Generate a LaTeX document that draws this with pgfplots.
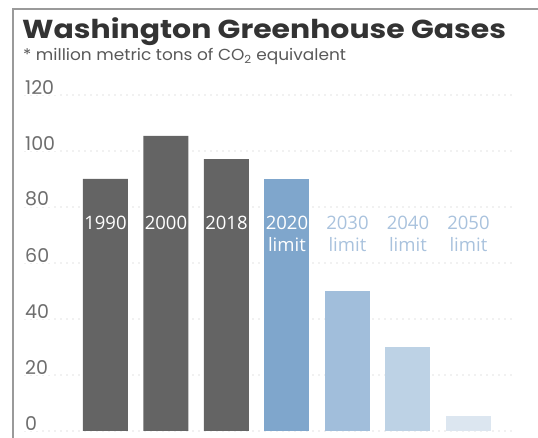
\documentclass[border=0pt]{standalone}
\usepackage{fontspec}
\setmainfont{Poppins}
\newfontfamily\barfont{Open Sans}
\usepackage{graphicx}
\usepackage{pgfplots}
\pgfplotsset{compat=1.18}
\definecolor{darkbar}{HTML}{646464}
\definecolor{b2020}{HTML}{7FA6CC}
\definecolor{b2030}{HTML}{A1BEDB}
\definecolor{b2040}{HTML}{BDD2E5}
\definecolor{b2050}{HTML}{DCE6F0}
\definecolor{lbl}{HTML}{A9C2DD}
\definecolor{ticktxt}{HTML}{6E6E6E}
\definecolor{gridc}{HTML}{C4C4C4}
\definecolor{frame}{HTML}{9A9A9A}
\begin{document}
\begin{tikzpicture}
\useasboundingbox (0,0) rectangle (538pt,438pt);
\draw[frame, line width=1.2pt] (13pt,0) -- (13pt,429pt) -- (538pt,429pt);
\node[anchor=base west, inner sep=0pt, text=black!80, font=\fontsize{26}{30}\selectfont\bfseries] at (22pt,399pt) {\scalebox{1.15}[1]{Washington Greenhouse Gases}};
\node[anchor=base west, inner sep=0pt, text=black!65, font=\fontsize{16}{18}\selectfont] at (23pt,377pt) {\scalebox{1.06}[1]{* million metric tons of CO\textsubscript{2} equivalent}};
\begin{axis}[
  at={(25pt,7pt)}, anchor=south west,
  scale only axis, width=490pt, height=336pt,
  xmin=-1.33, xmax=6.77, ymin=0, ymax=120,
  axis line style={draw=none},
  xtick=\empty,
  ytick={0,20,...,120},
  major tick length=0pt,
  ymajorgrids,
  grid style={gridc, line width=1.3pt, line cap=round, dash pattern=on 0pt off 6pt},
  /pgf/number format/assume math mode=true,
  yticklabel style={anchor=south west, xshift=-2pt, inner xsep=2pt, inner ysep=0.5pt, fill=white, text=ticktxt, font=\fontsize{19}{21}\selectfont},
  ybar, bar width=45pt, bar shift=0pt,
  clip=false,
]
\addplot[fill=darkbar, draw=none] coordinates {(0,90) (1,105.4) (2,97.1)};
\addplot[fill=b2020, draw=none] coordinates {(3,90)};
\addplot[fill=b2030, draw=none] coordinates {(4,50)};
\addplot[fill=b2040, draw=none] coordinates {(5,30)};
\addplot[fill=b2050, draw=none] coordinates {(6,5.4)};
\begin{scope}[every node/.style={anchor=base, inner sep=0pt, font=\barfont\fontsize{18.5}{20}\selectfont}]
\node[text=white] at (axis cs:0,71.8) {1990};
\node[text=white] at (axis cs:1,71.8) {2000};
\node[text=white] at (axis cs:2,71.8) {2018};
\node[text=white] at (axis cs:3,71.8) {2020};
\node[text=white] at (axis cs:3,64) {limit};
\node[text=lbl] at (axis cs:4,71.8) {2030};
\node[text=lbl] at (axis cs:4,64) {limit};
\node[text=lbl] at (axis cs:5,71.8) {2040};
\node[text=lbl] at (axis cs:5,64) {limit};
\node[text=lbl] at (axis cs:6,71.8) {2050};
\node[text=lbl] at (axis cs:6,64) {limit};
\end{scope}
\end{axis}
\end{tikzpicture}
\end{document}
